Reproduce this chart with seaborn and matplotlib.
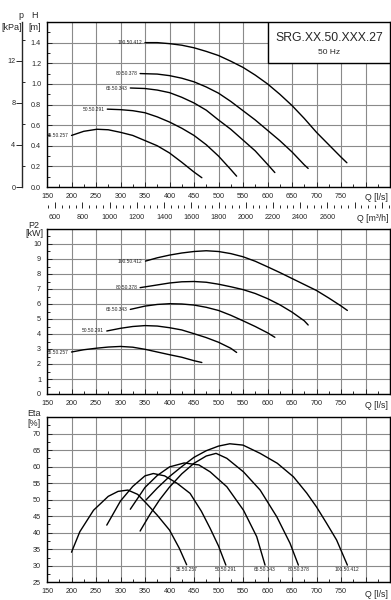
import numpy as np
import pandas as pd
import matplotlib.pyplot as plt
import seaborn as sns
from matplotlib.patches import Rectangle
from matplotlib.ticker import MultipleLocator, FixedLocator

sns.set_style("ticks")
plt.rcParams['font.family'] = ['Liberation Sans', 'DejaVu Sans']

models = ["35.50.257", "50.50.291", "65.50.343", "80.50.378", "100.50.412"]

# Head H [m] vs Q [l/s]
h_q35 = [200, 225, 252, 275, 300, 325, 350, 375, 400, 425, 450, 466]
h_35 = [0.50, 0.54, 0.56, 0.555, 0.53, 0.50, 0.45, 0.40, 0.33, 0.24, 0.145, 0.09]
h_q50 = [273, 300, 325, 350, 375, 400, 425, 450, 475, 500, 525, 537]
h_50 = [0.755, 0.75, 0.74, 0.72, 0.68, 0.63, 0.57, 0.50, 0.41, 0.30, 0.17, 0.105]
h_q65 = [320, 350, 375, 400, 425, 450, 475, 500, 525, 550, 575, 600, 615]
h_65 = [0.96, 0.955, 0.94, 0.915, 0.87, 0.815, 0.745, 0.65, 0.56, 0.455, 0.35, 0.22, 0.14]
h_q80 = [340, 375, 400, 425, 450, 475, 500, 525, 550, 575, 600, 625, 650, 675, 683]
h_80 = [1.10, 1.095, 1.08, 1.055, 1.02, 0.97, 0.91, 0.83, 0.74, 0.65, 0.55, 0.45, 0.34, 0.215, 0.18]
h_q100 = [350, 375, 400, 425, 450, 475, 500, 525, 550, 575, 600, 625, 650, 675, 700, 725, 750, 762]
h_100 = [1.40, 1.40, 1.39, 1.375, 1.35, 1.315, 1.275, 1.22, 1.16, 1.085, 1.0, 0.90, 0.79, 0.665, 0.53, 0.41, 0.29, 0.235]

# Power P2 [kW]
p_q35 = [200, 225, 250, 275, 300, 325, 350, 375, 400, 425, 450, 466]
p_35 = [2.8, 2.95, 3.05, 3.13, 3.17, 3.12, 2.98, 2.8, 2.62, 2.45, 2.22, 2.1]
p_q50 = [272, 300, 325, 350, 375, 400, 425, 450, 475, 500, 525, 537]
p_50 = [4.2, 4.38, 4.5, 4.56, 4.53, 4.42, 4.27, 4.02, 3.76, 3.45, 3.05, 2.77]
p_q65 = [320, 350, 375, 400, 425, 450, 475, 500, 525, 550, 575, 600, 615]
p_65 = [5.64, 5.86, 5.97, 6.02, 6.0, 5.93, 5.78, 5.57, 5.25, 4.88, 4.5, 4.08, 3.78]
p_q80 = [340, 375, 400, 425, 450, 475, 500, 525, 550, 575, 600, 625, 650, 675, 683]
p_80 = [7.09, 7.27, 7.4, 7.48, 7.5, 7.45, 7.32, 7.15, 6.96, 6.7, 6.36, 5.95, 5.46, 4.88, 4.6]
p_q100 = [351, 375, 400, 425, 450, 475, 500, 525, 550, 575, 600, 625, 650, 675, 700, 725, 750, 763]
p_100 = [8.86, 9.08, 9.26, 9.4, 9.5, 9.55, 9.5, 9.36, 9.15, 8.85, 8.48, 8.1, 7.7, 7.3, 6.9, 6.4, 5.87, 5.57]

# Efficiency Eta [%]
e_q35 = [200, 217, 245, 275, 295, 315, 335, 352, 375, 400, 420, 435]
e_35 = [34.1, 40.3, 46.8, 51.0, 52.5, 52.9, 51.6, 49.0, 45.3, 40.8, 35.3, 30.3]
e_q50 = [272, 300, 325, 350, 367, 390, 415, 442, 465, 483, 500, 515]
e_50 = [42.3, 49.6, 54.0, 57.2, 57.9, 57.2, 55.0, 51.9, 46.5, 41.3, 36.0, 30.2]
e_q65 = [320, 350, 375, 400, 430, 460, 483, 517, 551, 578, 595]
e_65 = [47.1, 53.7, 57.3, 59.9, 61.1, 60.5, 58.4, 53.9, 46.8, 38.8, 30.2]
e_q80 = [340, 360, 380, 400, 425, 450, 475, 495, 517, 551, 585, 619, 646, 663]
e_80 = [40.5, 45.5, 50.0, 53.8, 57.8, 61.0, 63.2, 64.0, 62.5, 58.4, 52.9, 44.8, 36.8, 30.2]
e_q100 = [352, 375, 400, 425, 450, 475, 500, 523, 550, 585, 620, 653, 680, 700, 720, 741, 763]
e_100 = [49.9, 53.5, 57.0, 60.0, 62.8, 64.8, 66.2, 66.9, 66.5, 64.0, 61.0, 56.9, 52.0, 47.8, 43.0, 37.8, 30.2]

x_ticks = list(range(150, 851, 50))
x_labels = [str(t) if t <= 750 else "" for t in x_ticks]


def make_df(qs, vs):
    frames = [pd.DataFrame({"q": q, "v": v, "model": m}) for m, q, v in zip(models, qs, vs)]
    return pd.concat(frames, ignore_index=True)


def style_axes(ax, yticks, ylabels, yminor):
    ax.set_xlim(150, 850)
    ax.set_xticks(x_ticks, x_labels)
    ax.xaxis.set_minor_locator(MultipleLocator(25))
    ax.set_yticks(yticks, ylabels)
    ax.yaxis.set_minor_locator(MultipleLocator(yminor))
    ax.set_ylim(yticks[0], yticks[-1])
    ax.grid(True, which="major", color="#8a8a8a", lw=0.8)
    ax.set_axisbelow(True)
    ax.tick_params(which="both", direction="in", labelsize=5.2, pad=4.3, width=0.7)
    ax.tick_params(which="major", length=3.5)
    ax.tick_params(which="minor", length=2.2)
    for s in ax.spines.values():
        s.set_color("black")
        s.set_linewidth(1.0)
    ax.set_xlabel("")
    ax.set_ylabel("")


def draw(ax, df):
    sns.lineplot(data=df, x="q", y="v", units="model", estimator=None, sort=False,
                 color="black", lw=1.0, ax=ax)


fig = plt.figure(figsize=(3.91, 6.0), dpi=100)
W, H = 391, 600
left, width = 47 / W, 343 / W
ax_h = fig.add_axes([left, 1 - 187 / H, width, 165 / H])
ax_p = fig.add_axes([left, 1 - 394 / H, width, 165 / H])
ax_e = fig.add_axes([left, 1 - 582.3 / H, width, 165.3 / H])

# ---- head panel
df_h = make_df([h_q35, h_q50, h_q65, h_q80, h_q100], [h_35, h_50, h_65, h_80, h_100])
draw(ax_h, df_h)
h_ticks = [round(0.2 * i, 1) for i in range(9)]
style_axes(ax_h, h_ticks, [f"{t:.1f}" for t in h_ticks[:-1]] + [""], 0.1)
for m, q, v in zip(models, [h_q35, h_q50, h_q65, h_q80, h_q100], [h_35, h_50, h_65, h_80, h_100]):
    ax_h.annotate(m, xy=(q[0], v[0]), xytext=(-2, 0), textcoords="offset points",
                  ha="right", va="center", fontsize=3.5)

# pressure axis on the far left
ax_kpa = ax_h.twinx()
ax_kpa.set_ylim(0, 1.6 * 9.81)
ax_kpa.yaxis.tick_left()
ax_kpa.spines["left"].set_position(("outward", 17.8))
ax_kpa.spines["left"].set_linewidth(1.0)
for s in ["right", "top", "bottom"]:
    ax_kpa.spines[s].set_visible(False)
ax_kpa.set_yticks([0, 4, 8, 12], ["0", "4", "8", "12"])
ax_kpa.yaxis.set_minor_locator(FixedLocator([2, 6, 10, 14]))
ax_kpa.tick_params(which="major", direction="out", length=4, pad=1, labelsize=5.2, width=0.7)
ax_kpa.tick_params(which="minor", direction="in", length=2, width=0.7)

# m3/h axis
sec = ax_h.secondary_xaxis(-0.127, functions=(lambda q: q * 3.6, lambda m: m / 3.6))
sec.spines["bottom"].set_visible(False)
m3_ticks = list(range(600, 3001, 200))
sec.set_xticks(m3_ticks, [str(t) if t <= 2600 else "" for t in m3_ticks])
sec.xaxis.set_minor_locator(MultipleLocator(50))
sec.tick_params(which="both", direction="in", labelsize=5.2, pad=4.3, width=0.7)
sec.tick_params(which="major", length=4)
sec.tick_params(which="minor", length=2.2)

ax_h.text(0.995, -0.061, "Q [l/s]", transform=ax_h.transAxes, ha="right", va="center", fontsize=6.3)
ax_h.text(0.995, -0.188, "Q [m³/h]", transform=ax_h.transAxes, ha="right", va="center", fontsize=6.3)

# title box
ax_h.add_patch(Rectangle((0.644, 0.752), 0.356, 0.248, transform=ax_h.transAxes,
                         facecolor="white", edgecolor="black", lw=1.0, zorder=5))
ax_h.text(0.822, 0.905, "SRG.XX.50.XXX.27", transform=ax_h.transAxes, ha="center",
          va="center", fontsize=8.8, zorder=6)
ax_h.text(0.822, 0.815, "50 Hz", transform=ax_h.transAxes, ha="center", va="center",
          fontsize=6, zorder=6)

# ---- power panel
df_p = make_df([p_q35, p_q50, p_q65, p_q80, p_q100], [p_35, p_50, p_65, p_80, p_100])
draw(ax_p, df_p)
p_ticks = list(range(0, 12))
style_axes(ax_p, p_ticks, [str(t) for t in p_ticks[:-1]] + [""], 0.5)
for m, q, v in zip(models, [p_q35, p_q50, p_q65, p_q80, p_q100], [p_35, p_50, p_65, p_80, p_100]):
    ax_p.annotate(m, xy=(q[0], v[0]), xytext=(-2, 0), textcoords="offset points",
                  ha="right", va="center", fontsize=3.5)
ax_p.text(0.995, -0.067, "Q [l/s]", transform=ax_p.transAxes, ha="right", va="center", fontsize=6.3)

# ---- efficiency panel
df_e = make_df([e_q35, e_q50, e_q65, e_q80, e_q100], [e_35, e_50, e_65, e_80, e_100])
draw(ax_e, df_e)
e_ticks = list(range(25, 76, 5))
style_axes(ax_e, e_ticks, [str(t) for t in e_ticks[:-1]] + [""], 2.5)
for m, q in zip(models, [e_q35, e_q50, e_q65, e_q80, e_q100]):
    ax_e.text(q[-1], 29.0, m, ha="center", va="center", fontsize=3.5)
ax_e.text(0.995, -0.071, "Q [l/s]", transform=ax_e.transAxes, ha="right", va="center", fontsize=6.3)

# axis titles
fs = 6.5
fig.text(20.7 / W, 1 - 16 / H, "p", ha="center", va="center", fontsize=fs)
fig.text(22 / W, 1 - 27 / H, "[kPa]", ha="right", va="center", fontsize=fs)
fig.text(34 / W, 1 - 16 / H, "H", ha="center", va="center", fontsize=fs)
fig.text(34.5 / W, 1 - 27 / H, "[m]", ha="center", va="center", fontsize=fs)
fig.text(34 / W, 1 - 225 / H, "P2", ha="center", va="center", fontsize=fs)
fig.text(34 / W, 1 - 234 / H, "[kW]", ha="center", va="center", fontsize=fs)
fig.text(34 / W, 1 - 413 / H, "Eta", ha="center", va="center", fontsize=fs)
fig.text(34 / W, 1 - 424 / H, "[%]", ha="center", va="center", fontsize=fs)

fig.savefig("out.png", dpi=100)
plt.close(fig)
